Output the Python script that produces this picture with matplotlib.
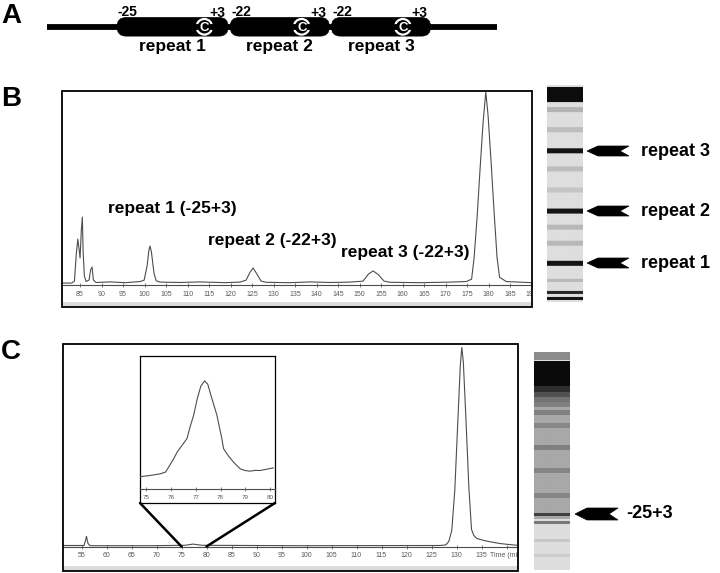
import numpy as np
import matplotlib
matplotlib.use('Agg')
import matplotlib.pyplot as plt
from matplotlib.patches import Rectangle, FancyBboxPatch, Circle, Polygon, ConnectionPatch
from matplotlib.transforms import Bbox, TransformedBbox

plt.rcParams['font.family'] = ['Liberation Sans', 'DejaVu Sans']

W, H = 720, 573

# panel A: repeat boundaries (nt) and position of the C
repeat_names = ['repeat 1', 'repeat 2', 'repeat 3']
repeat_left = [-25, -22, -22]
repeat_right = [3, 3, 3]
c_site = [-3, -4, -4]

# panel B trace (time, signal)
b_time = [80.8, 83.1, 83.7, 84.1, 84.47, 84.8, 85.0, 85.3, 85.53, 85.7, 86.0, 86.4,
          87.1, 87.45, 87.79, 88.1, 88.7, 92.0, 95.5, 99.0, 99.9, 100.6, 101.0, 101.28,
          101.6, 102.2, 102.7, 103.6, 108.3, 112.9, 118.7, 122.2, 123.6, 124.5, 125.23,
          125.9, 127.1, 128.3, 133.8, 138.5, 143.1, 147.8, 150.8, 152.0, 153.14, 154.3,
          155.7, 157.1, 164.1, 171.0, 174.8, 176.05, 176.63, 177.33, 178.02, 178.72,
          179.35, 179.88, 180.58, 181.28, 181.98, 182.56, 184.1, 190.1]
b_signal = [1.0, 1.0, 2.1, 15.5, 23.8, 18.0, 14.0, 28.5, 35.2, 18.1, 4.7, 1.8,
            2.6, 7.8, 9.3, 2.6, 1.3, 1.6, 1.2, 1.8, 2.5, 10.0, 18.0, 20.2,
            17.0, 6.0, 2.2, 1.5, 1.3, 1.6, 1.2, 1.5, 2.5, 6.5, 8.8,
            6.5, 2.0, 1.4, 1.2, 1.6, 1.3, 1.5, 2.0, 5.5, 7.3, 5.5,
            2.0, 1.4, 1.2, 1.5, 1.8, 3.0, 14.0, 35.0, 60.0, 84.0,
            100.0, 88.0, 64.0, 38.0, 14.0, 4.0, 1.8, 1.2]
b_ticks = list(range(85, 195, 5))
b_labels = ['repeat 1 (-25+3)', 'repeat 2 (-22+3)', 'repeat 3 (-22+3)']
b_label_time = [106.4, 129.7, 160.6]
b_label_signal = [39.4, 22.8, 16.6]

# panel B gel lane (row from lane top, half thickness, gray level)
gel_b_band = [10, 25, 45, 66, 84, 105, 126, 142, 158, 178, 195, 207, 213]
gel_b_half = [7, 2, 2, 2.5, 2, 2, 2.5, 2, 2, 2.5, 1.5, 1.2, 1.5]
gel_b_gray = [0.05, 0.7, 0.74, 0.08, 0.74, 0.77, 0.08, 0.72, 0.72, 0.08, 0.72, 0.15, 0.08]
gel_b_marked = [66, 126, 178]
gel_b_marked_names = ['repeat 3', 'repeat 2', 'repeat 1']

# panel C trace
c_time = [51.3, 55.5, 55.8, 56.0, 56.3, 56.7, 68.7, 75.7, 77.3, 79.1, 98.7, 126.7,
          127.86, 128.46, 129.06, 129.66, 130.26, 130.76, 131.06, 131.36, 131.86,
          132.46, 133.0, 133.46, 134.06, 135.46, 137.06, 138.66, 140.06, 141.66, 142.26]
c_signal = [0.5, 0.5, 3.0, 5.0, 1.5, 0.4, 0.4, 0.6, 1.2, 0.6, 0.4, 0.5,
            0.8, 2.5, 8.0, 28.0, 62.0, 90.0, 99.0, 92.0, 65.0,
            30.0, 8.5, 5.5, 4.0, 3.0, 2.2, 1.5, 1.1, 0.7, 0.6]
c_ticks = list(range(55, 145, 5))
c_ticklabels = [str(t) for t in c_ticks[:-1]] + ['Time (min)']

# panel C inset (zoom on 75-80)
inset_time = [74.76, 75.16, 75.56, 75.77, 75.93, 76.10, 76.25, 76.44, 76.64, 76.77,
              76.91, 77.06, 77.20, 77.35, 77.48, 77.62, 77.85, 78.05, 78.12, 78.31,
              78.52, 78.79, 78.99, 79.19, 79.40, 79.60, 79.84, 80.13]
inset_signal = [9.3, 10.2, 11.4, 12.7, 17.4, 22.7, 28.0, 32.8, 37.9, 47.0,
                55.5, 68.2, 77.3, 81.3, 78.8, 69.7, 55.5, 37.9, 30.3, 25.0,
                20.2, 15.2, 13.9, 13.4, 14.0, 13.9, 14.8, 15.9]
inset_ticks = [75, 76, 77, 78, 79, 80]

# panel C gel lane
gel_c_band = [100, 3, 21, 36, 41, 46, 52, 60, 73, 95, 118, 143, 162, 170, 188, 203]
gel_c_half = [66, 4, 12, 3, 3, 3, 2, 2, 2, 2, 2, 2, 1.8, 1.5, 1.5, 1.5]
gel_c_gray = [0.66, 0.55, 0.04, 0.18, 0.32, 0.45, 0.5, 0.5, 0.53, 0.5, 0.52, 0.52, 0.25, 0.48, 0.78, 0.8]
gel_c_marked = [162]
gel_c_marked_names = ['-25+3']


def box(x0, y0, x1, y1):
    return [x0 / W, 1 - y1 / H, (x1 - x0) / W, (y1 - y0) / H]


def clipbox(x0, y0, x1, y1):
    return TransformedBbox(Bbox.from_extents(x0 / W, 1 - y1 / H, x1 / W, 1 - y0 / H), fig.transFigure)


def trace_axes(rect, xlim, ylim, ticks):
    ax = fig.add_axes(rect)
    ax.set_xlim(*xlim)
    ax.set_ylim(*ylim)
    ax.patch.set_alpha(0)
    for s in ['top', 'left', 'right']:
        ax.spines[s].set_visible(False)
    ax.spines['bottom'].set_color('0.3')
    ax.spines['bottom'].set_linewidth(0.8)
    ax.set_yticks([])
    ax.set_xticks(ticks)
    ax.tick_params(axis='x', direction='inout', length=3, width=0.6, color='0.4',
                   labelsize=5, labelcolor='0.35', pad=2.5)
    return ax


def gel(rect, rows, band, half, gray, bg):
    ax = fig.add_axes(rect)
    r = np.arange(rows)
    prof = np.full(rows, bg)
    for c, h, g in zip(band, half, gray):
        m = np.abs(r - c) <= h
        prof[m] = np.minimum(prof[m], g)
    ax.imshow(prof[:, None], cmap='gray', vmin=0, vmax=1, aspect='auto',
              interpolation='bilinear', extent=(0, 1, rows, 0))
    ax.axis('off')
    return ax


def arrow(ax, xt, yc, hh, length, head, notch):
    pts = [(xt, yc), (xt + head, yc - hh), (xt + length, yc - hh),
           (xt + length - notch, yc), (xt + length, yc + hh), (xt + head, yc + hh)]
    ax.add_patch(Polygon(pts, closed=True, fc='black', ec='black', lw=0.5))


fig = plt.figure(figsize=(7.2, 5.73), dpi=100)

# overlay in pixel coordinates
ov = fig.add_axes([0, 0, 1, 1])
ov.set_xlim(0, W)
ov.set_ylim(H, 0)
ov.axis('off')
ov.set_zorder(10)
ov.patch.set_alpha(0)

for letter, y in zip(['A', 'B', 'C'], [16, 99, 352]):
    ov.text(1, y, letter, fontsize=20, fontweight='bold', va='center', ha='left')

# ---- panel A schematic
scale = 3.97
x_start = 117
ov.plot([47, 497], [27, 27], color='black', lw=4.2, solid_capstyle='butt')
cursor = 0
for name, left, right, c in zip(repeat_names, repeat_left, repeat_right, c_site):
    x0 = x_start + cursor * scale
    x1 = x0 + (right - left) * scale
    ov.add_patch(FancyBboxPatch((x0, 17.5), x1 - x0, 18.6,
                                boxstyle='round,pad=0,rounding_size=9.2',
                                fc='black', ec='black', lw=0.5))
    ov.text(x0 + 1, 11.5, f'{left}', fontsize=10, fontweight='bold', ha='left', va='center')
    ov.text(x1 - 3, 13, f'+{right}', fontsize=10, fontweight='bold', ha='right', va='center')
    cx = x0 + (c - left) * scale
    ov.add_patch(Circle((cx, 26.8), 7.8, fill=False, ec='white', lw=1.6))
    ov.text(cx + 0.3, 26.8, 'C', color='white', fontsize=9.5, fontweight='bold',
            ha='center', va='center_baseline')
    ov.text((x0 + x1) / 2, 46, name, fontsize=12.5, fontweight='bold', ha='center', va='center')
    cursor += right - left + 0.5

# ---- panel B electropherogram
axB = trace_axes(box(62, 91, 532, 285), (80.8, 190.1), (0, 100.5), b_ticks)
axB.plot(b_time, b_signal, color='0.3', lw=0.8)
for lbl, t, s in zip(b_labels, b_label_time, b_label_signal):
    axB.text(t, s, lbl, fontsize=12.5, fontweight='bold', ha='center', va='center')
ov.add_patch(Rectangle((63, 302), 468, 4, fc='0.86', ec='none'))
ov.add_patch(Rectangle((62, 91), 470, 216, fill=False, ec='black', lw=1.3))
cbB = clipbox(62, 91, 532, 307)
for tk in axB.xaxis.get_major_ticks():
    tk.label1.set_clip_box(cbB)
    tk.label1.set_clip_on(True)

# gel B
gel(box(547, 85, 583, 302), 217, gel_b_band, gel_b_half, gel_b_gray, 0.87)
for row, name in zip(gel_b_marked, gel_b_marked_names):
    arrow(ov, 587, 85 + row, 5, 42, 11, 9)
    ov.text(641, 85 + row, name, fontsize=13, fontweight='bold', ha='left', va='center')

# ---- panel C electropherogram
axC = trace_axes(box(63, 344, 518, 546.5), (51.3, 142.3), (0, 100.7), c_ticks)
axC.set_xticklabels(c_ticklabels)
axC.plot(c_time, c_signal, color='0.3', lw=0.8)
ov.add_patch(Rectangle((64, 566), 453, 4, fc='0.86', ec='none'))
ov.add_patch(Rectangle((63, 344), 455, 227, fill=False, ec='black', lw=1.3))
cbC = clipbox(63, 344, 518, 571)
for tk in axC.xaxis.get_major_ticks():
    tk.label1.set_clip_box(cbC)
    tk.label1.set_clip_on(True)

# inset
axIo = fig.add_axes(box(140, 356, 275, 503))
axIo.set_xticks([])
axIo.set_yticks([])
axIo.set_facecolor('white')
for s in axIo.spines.values():
    s.set_linewidth(0.9)
axIo.set_zorder(2)
axI = trace_axes(box(140, 356, 275, 489), (74.74, 80.2), (0, 100), inset_ticks)
axI.set_zorder(3)
axI.plot(inset_time, inset_signal, color='0.3', lw=0.8)
axI.tick_params(axis='x', labelsize=4.5)

for xa, t in [(0, inset_ticks[0]), (1, inset_ticks[-1])]:
    con = ConnectionPatch(xyA=(xa, 0), coordsA=axIo.transAxes, xyB=(t, 0), coordsB=axC.transData,
                          color='black', lw=1.8)
    con.set_zorder(5)
    fig.add_artist(con)

# gel C
gel(box(534, 352, 570, 570), 218, gel_c_band, gel_c_half, gel_c_gray, 0.87)
for row, name in zip(gel_c_marked, gel_c_marked_names):
    arrow(ov, 575, 352 + row, 6, 43, 12, 9)
    ov.text(626, 352 + row, name, fontsize=13, fontweight='bold', ha='left', va='center')

fig.savefig('out.png', dpi=100)
